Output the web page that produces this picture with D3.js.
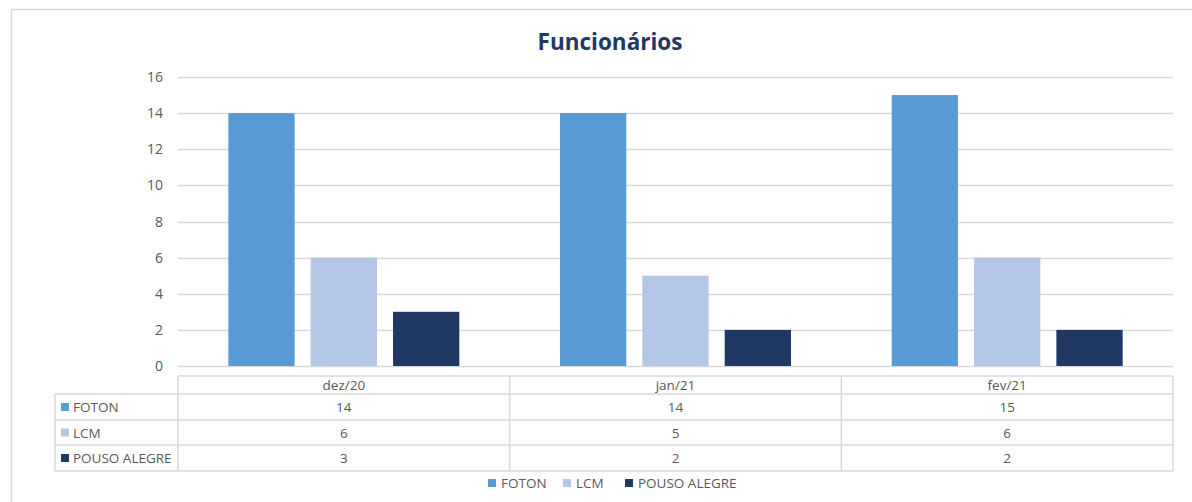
<!DOCTYPE html>
<meta charset="utf-8">
<style>
    body { margin: 0; background: #ffffff; }
    svg { display: block; font-family: "Open Sans", "Liberation Sans", sans-serif; }
</style>

<script src="https://d3js.org/d3.v7.min.js"></script>

<svg id="chart" width="1192" height="502"></svg>

<script>

// Data

var months = ['dez/20', 'jan/21', 'fev/21'];
var seriesNames = ['FOTON', 'LCM', 'POUSO ALEGRE'];
var foton = [14, 14, 15];
var lcm = [6, 5, 6];
var pousoAlegre = [3, 2, 2];
var yTicks = [0, 2, 4, 6, 8, 10, 12, 14, 16];

var seriesValues = [foton, lcm, pousoAlegre];
var colors = ['#5B9BD5', '#B4C7E7', '#203864'];

// Layout

var svg = d3.select('svg#chart');

var plotLeft = 178, plotRight = 1173;
var plotTop = 77, plotBottom = 366;
var tableLeft = 55;
var rowEdges = [376, 394, 420, 445, 471];
var gridColor = '#D9D9D9';
var textColor = '#595959';
var smallFont = '13.5px';

// Chart frame
svg.append('rect')
    .attr('x', 11.5).attr('y', 9.5)
    .attr('width', 1200).attr('height', 520)
    .attr('fill', 'none')
    .attr('stroke', gridColor)
    .attr('stroke-width', 1.5);

// Title
svg.append('text')
    .attr('x', 610).attr('y', 50)
    .attr('text-anchor', 'middle')
    .attr('font-size', '22.5px')
    .attr('font-weight', 'bold')
    .attr('fill', '#203864')
    .text('Funcionários');

// Scales
var x = d3.scaleBand()
    .domain(months)
    .range([plotLeft, plotRight]);

var x1 = d3.scaleBand()
    .domain(seriesNames)
    .range([0, 231])
    .paddingInner(0.195);

var y = d3.scaleLinear()
    .domain([0, 16])
    .range([plotBottom, plotTop]);

// Gridlines + y labels
var yAxis = svg.append('g');
yAxis.selectAll('line')
    .data(yTicks)
    .enter().append('line')
    .attr('x1', plotLeft).attr('x2', plotRight)
    .attr('y1', function(d) { return Math.round(y(d)) + 0.5; })
    .attr('y2', function(d) { return Math.round(y(d)) + 0.5; })
    .attr('stroke', gridColor)
    .attr('stroke-width', 1.5);

yAxis.selectAll('text')
    .data(yTicks)
    .enter().append('text')
    .attr('x', 163)
    .attr('y', function(d) { return y(d) + 5; })
    .attr('text-anchor', 'end')
    .attr('font-size', '14px')
    .attr('fill', textColor)
    .text(function(d) { return d; });

// Bars
var groups = svg.append('g').selectAll('g')
    .data(months)
    .enter().append('g')
    .attr('transform', function(d) {
        return 'translate(' + (x(d) + (x.bandwidth() - 231) / 2) + ',0)';
    });

groups.selectAll('rect')
    .data(function(m, i) {
        return seriesNames.map(function(s, j) { return { s: s, v: seriesValues[j][i], c: colors[j] }; });
    })
    .enter().append('rect')
    .attr('x', function(d) { return x1(d.s); })
    .attr('width', x1.bandwidth())
    .attr('y', function(d) { return y(d.v); })
    .attr('height', function(d) { return plotBottom - y(d.v); })
    .attr('fill', function(d) { return d.c; });

// Data table
var table = svg.append('g')
    .attr('stroke', gridColor)
    .attr('stroke-width', 1.5)
    .attr('fill', 'none');

// horizontal lines
table.append('line')
    .attr('x1', plotLeft).attr('x2', plotRight)
    .attr('y1', rowEdges[0]).attr('y2', rowEdges[0]);
rowEdges.slice(1).forEach(function(ry) {
    table.append('line')
        .attr('x1', tableLeft).attr('x2', plotRight)
        .attr('y1', ry).attr('y2', ry);
});
// vertical lines
table.append('line')
    .attr('x1', tableLeft).attr('x2', tableLeft)
    .attr('y1', rowEdges[1]).attr('y2', rowEdges[4]);
months.forEach(function(m) {
    table.append('line')
        .attr('x1', x(m)).attr('x2', x(m))
        .attr('y1', rowEdges[0]).attr('y2', rowEdges[4]);
});
table.append('line')
    .attr('x1', plotRight).attr('x2', plotRight)
    .attr('y1', rowEdges[0]).attr('y2', rowEdges[4]);

// header text
svg.append('g').selectAll('text')
    .data(months)
    .enter().append('text')
    .attr('x', function(d) { return x(d) + x.bandwidth() / 2; })
    .attr('y', (rowEdges[0] + rowEdges[1]) / 2 + 5)
    .attr('text-anchor', 'middle')
    .attr('font-size', smallFont)
    .attr('fill', textColor)
    .text(function(d) { return d; });

// series rows
seriesNames.forEach(function(s, j) {
    var cy = (rowEdges[j + 1] + rowEdges[j + 2]) / 2;
    var row = svg.append('g');
    row.append('rect')
        .attr('x', 61).attr('y', cy - 4)
        .attr('width', 8).attr('height', 8)
        .attr('fill', colors[j]);
    row.append('text')
        .attr('x', 73).attr('y', cy + 5)
        .attr('font-size', smallFont)
        .attr('fill', textColor)
        .text(s);
    row.selectAll('text.v')
        .data(seriesValues[j])
        .enter().append('text')
        .attr('class', 'v')
        .attr('x', function(d, i) { return x(months[i]) + x.bandwidth() / 2; })
        .attr('y', cy + 5)
        .attr('text-anchor', 'middle')
        .attr('font-size', smallFont)
        .attr('fill', textColor)
        .text(function(d) { return d; });
});

// Legend
var legendX = [488, 563, 625];
var legend = svg.append('g');
seriesNames.forEach(function(s, j) {
    legend.append('rect')
        .attr('x', legendX[j]).attr('y', 479)
        .attr('width', 8).attr('height', 8)
        .attr('fill', colors[j]);
    legend.append('text')
        .attr('x', legendX[j] + 13).attr('y', 488)
        .attr('font-size', smallFont)
        .attr('fill', textColor)
        .text(s);
});

</script>
